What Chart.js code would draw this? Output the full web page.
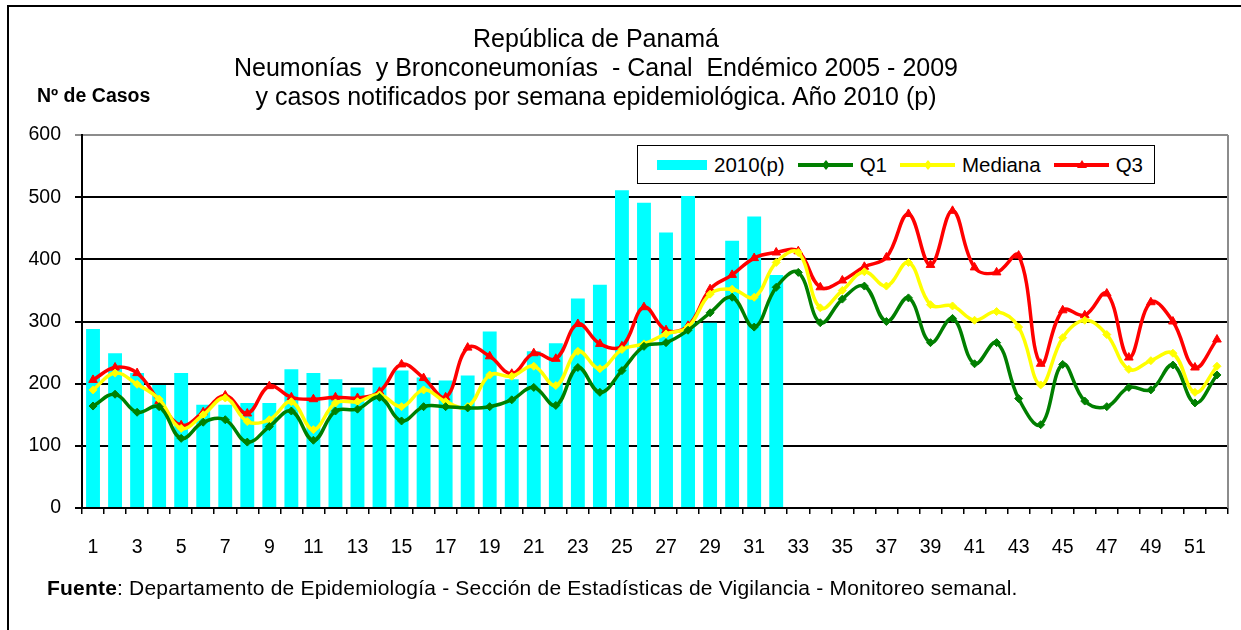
<!DOCTYPE html>
<html lang="es">
<head>
<meta charset="utf-8">
<title>Neumonías y Bronconeumonías - Canal Endémico</title>
<script src="https://cdn.jsdelivr.net/npm/chart.js@4.4.0/dist/chart.umd.min.js"></script>
<style>
  body { margin: 0; background: #fff; }
  #wrap { position: relative; width: 1241px; height: 630px; overflow: hidden; font-family: "Liberation Sans", Arial, sans-serif; color: #000; }
  #marco { position: absolute; left: 7px; top: 5px; width: 1300px; height: 700px; border: 2px solid #000; }
  #grafico { position: absolute; left: 0; top: 0; }
  #titulo { position: absolute; left: 0; width: 1192px; top: 24px; text-align: center; font-size: 25px; line-height: 29px; }
  #ejeY { position: absolute; left: 37px; top: 84px; font-size: 19.5px; font-weight: bold; }
  #fuente { position: absolute; left: 47px; top: 576px; font-size: 21px; letter-spacing: 0.2px; }
  #leyenda { position: absolute; left: 637px; top: 145px; width: 516px; height: 37px; border: 1.5px solid #000; background: #fff;
             display: flex; align-items: center; font-size: 20.5px; box-sizing: content-box; }
  #leyenda .item { display: flex; align-items: center; margin-left: 13px; }
  #leyenda .item span { margin-left: 7px; }
</style>
</head>
<body>
<div id="wrap">
  <div id="marco"></div>
  <canvas id="grafico" width="1241" height="630"></canvas>
  <div id="titulo">República de Panamá<br>Neumonías&nbsp; y Bronconeumonías&nbsp; - Canal&nbsp; Endémico 2005 - 2009<br>y casos notificados por semana epidemiológica. Año 2010 (p)</div>
  <div id="ejeY">Nº de Casos</div>
  <div id="leyenda"></div>
  <div id="fuente"><b>Fuente</b>: Departamento de Epidemiología - Sección de Estadísticas de Vigilancia - Monitoreo semanal.</div>
</div>
<script>
// semanas epidemiológicas
const semanas = []
for (let i = 1; i <= 52; i++) semanas.push(String(i))

// casos notificados 2010 (preliminar), semanas 1 a 32
const casos2010 = [
  288, 249, 217, 198, 217, 166, 166, 169, 169, 223,
  217, 207, 194, 226, 221, 210, 205, 213, 284, 207,
  252, 265, 337, 359, 511, 491, 443, 502, 298, 430,
  469, 375,
]

// canal endémico 2005 - 2009
const q1 = [
  164, 183, 154, 163, 112, 138, 142, 106, 131, 156,
  109, 156, 159, 178, 140, 163, 163, 161, 163, 174,
  194, 165, 226, 186, 221, 260, 266, 286, 314, 339,
  291, 355, 379, 298, 336, 357, 300, 338, 266, 305,
  232, 266, 176, 134, 231, 172, 163, 194, 190, 230,
  169, 214,
]
const mediana = [
  190, 217, 199, 175, 128, 150, 177, 139, 142, 171,
  126, 169, 171, 182, 163, 190, 171, 163, 214, 212,
  228, 197, 252, 224, 255, 264, 280, 291, 344, 352,
  339, 395, 411, 322, 350, 380, 357, 395, 327, 325,
  302, 316, 291, 198, 274, 302, 279, 223, 237, 249,
  186, 228,
]
const q3 = [
  206, 226, 217, 172, 133, 154, 181, 152, 196, 178,
  175, 178, 177, 187, 231, 209, 178, 258, 244, 216,
  249, 240, 296, 264, 260, 323, 286, 293, 352, 375,
  402, 411, 413, 355, 366, 388, 403, 473, 391, 478,
  387, 379, 406, 232, 318, 310, 345, 242, 331, 300,
  226, 271,
]

const yTicks = [0, 100, 200, 300, 400, 500, 600]

const fuenteTexto = { family: "'Liberation Sans', Arial, sans-serif", size: 19.5 }

function serieLinea(label, data, color, marcador, radio) {
  return {
    type: "line",
    label: label,
    data: data,
    borderColor: color,
    backgroundColor: color,
    borderWidth: 3.5,
    pointStyle: marcador,
    pointRadius: radio,
    pointBorderWidth: 1,
    tension: 0.4,
    fill: false,
    order: 1,
  }
}

// borde derecho gris del área de trazado
const bordeArea = {
  id: "bordeArea",
  afterDraw(chart) {
    const a = chart.chartArea
    const ctx = chart.ctx
    ctx.save()
    ctx.strokeStyle = "#8c8c8c"
    ctx.lineWidth = 2
    ctx.beginPath()
    ctx.moveTo(a.right, a.top)
    ctx.lineTo(a.right, a.bottom)
    ctx.stroke()
    ctx.restore()
  },
}

const chart = new Chart(document.getElementById("grafico"), {
  data: {
    labels: semanas,
    datasets: [
      {
        type: "bar",
        label: "2010(p)",
        data: casos2010,
        backgroundColor: "#00FFFF",
        barPercentage: 0.63,
        categoryPercentage: 1,
        order: 5,
      },
      serieLinea("Q1", q1, "#007F00", "rectRot", 4),
      serieLinea("Mediana", mediana, "#FFFF00", "rectRot", 4),
      serieLinea("Q3", q3, "#FF0000", "triangle", 5),
    ],
  },
  options: {
    responsive: false,
    animation: false,
    layout: { padding: { top: 135, right: 13, left: 0, bottom: 0 } },
    plugins: {
      legend: { display: false },
      title: { display: false },
      tooltip: { enabled: false },
    },
    scales: {
      x: {
        offset: true,
        grid: { offset: true, drawOnChartArea: false, drawTicks: true, tickLength: 6, color: "#000", lineWidth: 1.5 },
        border: { color: "#000", width: 2 },
        ticks: {
          autoSkip: false,
          maxRotation: 0,
          color: "#000",
          font: fuenteTexto,
          padding: 22,
          callback: (v, i) => (i % 2 === 0 ? semanas[i] : ""),
        },
        afterFit: (s) => { s.height = 122 },
      },
      y: {
        min: 0,
        max: 600,
        afterBuildTicks: (s) => { s.ticks = yTicks.map((v) => ({ value: v })) },
        grid: {
          color: (c) => (c.tick && c.tick.value === 600 ? "#8c8c8c" : "#000"),
          lineWidth: 2,
          tickLength: 7,
        },
        border: { color: "#000", width: 2 },
        ticks: { color: "#000", font: fuenteTexto, padding: 14 },
        afterFit: (s) => { s.width = 82 },
      },
    },
  },
  plugins: [bordeArea],
})

// leyenda en HTML, construida a partir de las series
function muestra(ds) {
  if (ds.type === "bar") {
    return '<svg width="50" height="12"><rect x="0" y="1" width="50" height="10" fill="' + ds.backgroundColor + '"/></svg>'
  }
  const c = ds.borderColor
  const m = ds.pointStyle === "triangle"
    ? '<polygon points="28,1 33,9 23,9" fill="' + c + '"/>'
    : '<polygon points="28,1 32,6 28,11 24,6" fill="' + c + '"/>'
  return '<svg width="55" height="12"><line x1="0" y1="6" x2="55" y2="6" stroke="' + c + '" stroke-width="4"/>' + m + "</svg>"
}

const leyenda = document.getElementById("leyenda")
chart.data.datasets.forEach((ds, i) => {
  const item = document.createElement("div")
  item.className = "item"
  item.style.marginLeft = i === 0 ? "19px" : "13px"
  item.innerHTML = muestra(ds) + "<span>" + ds.label + "</span>"
  leyenda.appendChild(item)
})
</script>
</body>
</html>
